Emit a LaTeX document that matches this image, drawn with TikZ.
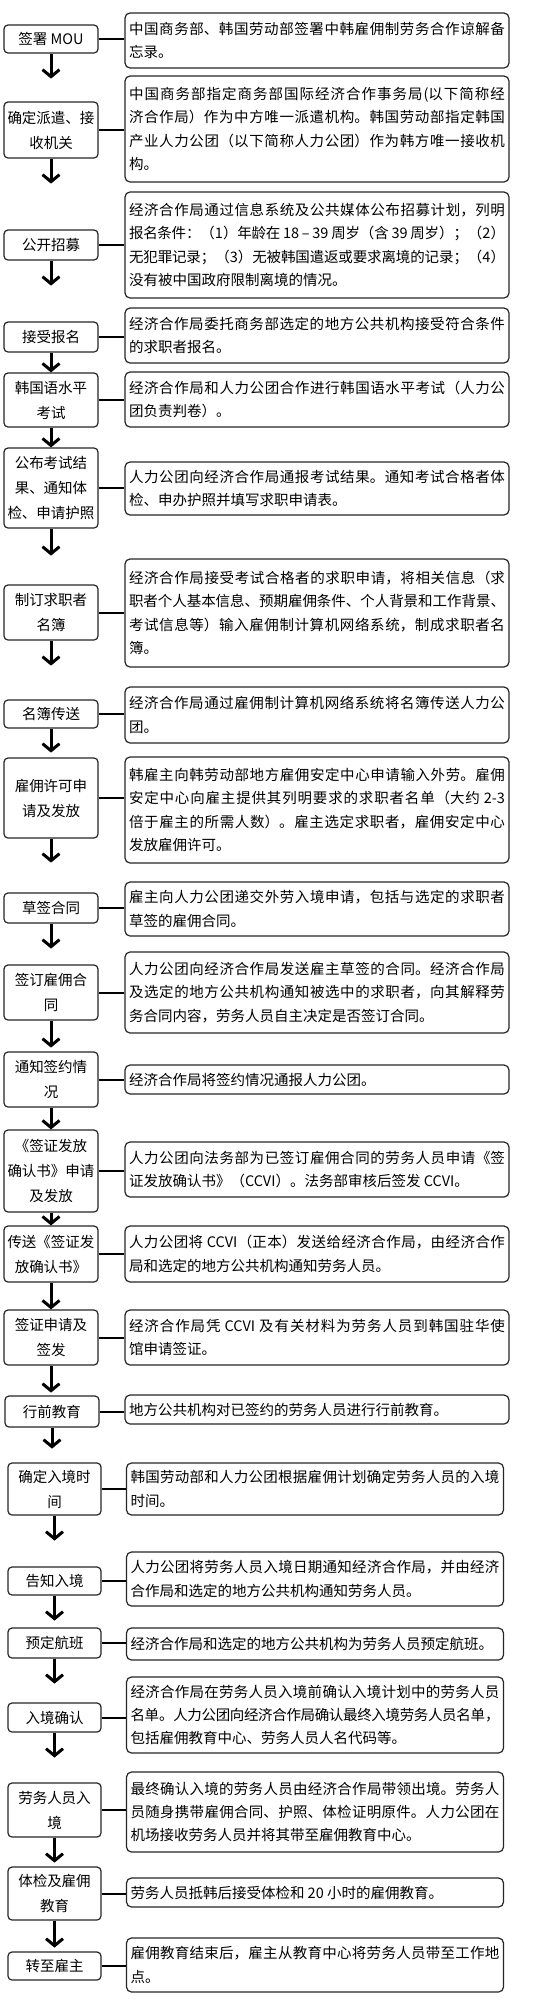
\documentclass[tikz,border=0pt]{standalone}
\usepackage{fontspec}
\setmainfont{Noto Sans CJK SC}
\usetikzlibrary{arrows.meta}
\XeTeXlinebreaklocale "zh"
\XeTeXlinebreakskip=0pt plus 2pt minus 0.6pt
\tolerance=10000
\begin{document}
\begin{tikzpicture}[x=1pt,y=-1pt,
  lbox/.style={draw=black!85, line width=1.2pt, rounded corners=4pt, minimum width=94pt, align=center, inner sep=2pt, font=\fontsize{14.5}{25}\selectfont},
  lboxl/.style={lbox, minimum width=93pt},
  rbox/.style={draw=black!85, line width=1.2pt, rounded corners=5pt, text width=376pt, align=justify, inner xsep=4pt, inner ysep=2pt, font=\fontsize{14.5}{23.3}\selectfont},
  rboxl/.style={rbox, text width=369pt},
  link/.style={line width=2pt},
  arr/.style={line width=3pt, -{Straight Barb[length=7pt,width=17pt]}}]
\fill[white] (0,0) rectangle (544,2003);
\useasboundingbox (0,0) rectangle (544,2003);

% left step boxes
\node[lbox, minimum height=28pt] (l1) at (51,39) {签署 MOU};
\node[lbox, minimum height=56pt] (l2) at (51,130) {确定派遣、接\\收机关};
\node[lbox, minimum height=30pt] (l3) at (51,245) {公开招募};
\node[lbox, minimum height=30pt] (l4) at (51,337) {接受报名};
\node[lbox, minimum height=54pt] (l5) at (51,400) {韩国语水平\\考试};
\node[lbox, minimum height=80pt] (l6) at (51,488) {公布考试结\\果、通知体\\检、申请护照};
\node[lbox, minimum height=55pt] (l7) at (51,612.5) {制订求职者\\名簿};
\node[lbox, minimum height=28pt] (l8) at (51,714) {名簿传送};
\node[lbox, minimum height=80pt] (l9) at (51,798) {雇佣许可申\\请及发放};
\node[lbox, minimum height=30pt] (l10) at (51,908) {草签合同};
\node[lbox, minimum height=55pt] (l11) at (51,992.5) {签订雇佣合\\同};
\node[lbox, minimum height=55pt] (l12) at (51,1079.5) {通知签约情\\况};
\node[lbox, minimum height=82pt] (l13) at (51,1171) {《签证发放\\确认书》申请\\及发放};
\node[lbox, minimum height=56pt] (l14) at (51,1254) {传送《签证发\\放确认书》};
\node[lbox, minimum height=55pt] (l15) at (51,1337.5) {签证申请及\\签发};
\node[lbox, minimum height=31pt] (l16) at (52,1411.5) {行前教育};
\node[lboxl, minimum height=52pt] (l17) at (54.5,1489) {确定入境时\\间};
\node[lboxl, minimum height=28pt] (l18) at (54.5,1581) {告知入境};
\node[lboxl, minimum height=30pt] (l19) at (54.5,1643) {预定航班};
\node[lboxl, minimum height=29pt] (l20) at (54.5,1717.5) {入境确认};
\node[lboxl, minimum height=54pt] (l21) at (54.5,1810) {劳务人员入\\境};
\node[lboxl, minimum height=53pt] (l22) at (54.5,1893.5) {体检及雇佣\\教育};
\node[lboxl, minimum height=28pt] (l23) at (54.5,1966) {转至雇主};

% right description boxes
\node[rbox, minimum height=55pt] (r1) at (317,40.5) {中国商务部、韩国劳动部签署中韩雇佣制劳务合作谅解备\linebreak 忘录。};
\node[rbox, minimum height=106pt] (r2) at (317,129) {中国商务部指定商务部国际经济合作事务局(以下简称经\linebreak 济合作局）作为中方唯一派遣机构。韩国劳动部指定韩国\linebreak 产业人力公团（以下简称人力公团）作为韩方唯一接收机\linebreak 构。};
\node[rbox, minimum height=106pt] (r3) at (317,245) {经济合作局通过信息系统及公共媒体公布招募计划，列明\linebreak 报名条件：（1）年龄在 18 – 39 周岁（含 39 周岁）；（2）\linebreak 无犯罪记录；（3）无被韩国遣返或要求离境的记录；（4）\linebreak 没有被中国政府限制离境的情况。};
\node[rbox, minimum height=55pt] (r4) at (317,335.5) {经济合作局委托商务部选定的地方公共机构接受符合条件\linebreak 的求职者报名。};
\node[rbox, minimum height=55pt] (r5) at (317,399.5) {经济合作局和人力公团合作进行韩国语水平考试（人力公\linebreak 团负责判卷）。};
\node[rbox, minimum height=53pt] (r6) at (317,488.5) {人力公团向经济合作局通报考试结果。通知考试合格者体\linebreak 检、申办护照并填写求职申请表。};
\node[rbox, minimum height=108pt] (r7) at (317,613) {经济合作局接受考试合格者的求职申请，将相关信息（求\linebreak 职者个人基本信息、预期雇佣条件、个人背景和工作背景、\linebreak 考试信息等）输入雇佣制计算机网络系统，制成求职者名\linebreak 簿。};
\node[rbox, minimum height=56pt] (r8) at (317,715) {经济合作局通过雇佣制计算机网络系统将名簿传送人力公\linebreak 团。};
\node[rbox, minimum height=106pt] (r9) at (317,810) {韩雇主向韩劳动部地方雇佣安定中心申请输入外劳。雇佣\linebreak 安定中心向雇主提供其列明要求的求职者名单（大约 2-3\linebreak 倍于雇主的所需人数）。雇主选定求职者，雇佣安定中心\linebreak 发放雇佣许可。};
\node[rbox, minimum height=54pt] (r10) at (317,909) {雇主向人力公团递交外劳入境申请，包括与选定的求职者\linebreak 草签的雇佣合同。};
\node[rbox, minimum height=81pt] (r11) at (317,992.5) {人力公团向经济合作局发送雇主草签的合同。经济合作局\linebreak 及选定的地方公共机构通知被选中的求职者，向其解释劳\linebreak 务合同内容，劳务人员自主决定是否签订合同。};
\node[rbox, minimum height=29pt] (r12) at (317,1079.5) {经济合作局将签约情况通报人力公团。};
\node[rbox, minimum height=55pt] (r13) at (317,1169.5) {人力公团向法务部为已签订雇佣合同的劳务人员申请《签\linebreak 证发放确认书》（CCVI）。法务部审核后签发 CCVI。};
\node[rbox, minimum height=56pt] (r14) at (317,1254) {人力公团将 CCVI（正本）发送给经济合作局，由经济合作\linebreak 局和选定的地方公共机构通知劳务人员。};
\node[rbox, minimum height=55pt] (r15) at (317,1337.5) {经济合作局凭 CCVI 及有关材料为劳务人员到韩国驻华使\linebreak 馆申请签证。};
\node[rbox, minimum height=29pt] (r16) at (317,1409.5) {地方公共机构对已签约的劳务人员进行行前教育。};
\node[rboxl, minimum height=52pt] (r17) at (315,1489) {韩国劳动部和人力公团根据雇佣计划确定劳务人员的入境\linebreak 时间。};
\node[rboxl, minimum height=54pt] (r18) at (315,1579) {人力公团将劳务人员入境日期通知经济合作局，并由经济\linebreak 合作局和选定的地方公共机构通知劳务人员。};
\node[rboxl, minimum height=32pt] (r19) at (315,1644) {经济合作局和选定的地方公共机构为劳务人员预定航班。};
\node[rboxl, minimum height=76pt] (r20) at (315,1715) {经济合作局在劳务人员入境前确认入境计划中的劳务人员\linebreak 名单。人力公团向经济合作局确认最终入境劳务人员名单，\linebreak 包括雇佣教育中心、劳务人员人名代码等。};
\node[rboxl, minimum height=80pt] (r21) at (315,1812) {最终确认入境的劳务人员由经济合作局带领出境。劳务人\linebreak 员随身携带雇佣合同、护照、体检证明原件。人力公团在\linebreak 机场接收劳务人员并将其带至雇佣教育中心。};
\node[rboxl, minimum height=29pt] (r22) at (315,1892.5) {劳务人员抵韩后接受体检和 20 小时的雇佣教育。};
\node[rboxl, minimum height=54pt] (r23) at (315,1965) {雇佣教育结束后，雇主从教育中心将劳务人员带至工作地\linebreak 点。};

% links
\foreach \i in {1,...,23} {
  \draw[link] (l\i.east) -- (l\i.east -| r\i.west);
}

% arrows
\draw[arr] (l1.south) -- ++(0,25);
\draw[arr] (l2.south) -- ++(0,25);
\draw[arr] (l3.south) -- ++(0,25);
\draw[arr] (l4.south) -- (l5.north);
\draw[arr] (l5.south) -- (l6.north);
\draw[arr] (l6.south) -- ++(0,27);
\draw[arr] (l7.south) -- ++(0,25);
\draw[arr] (l8.south) -- ++(0,24);
\draw[arr] (l9.south) -- ++(0,24);
\draw[arr] (l10.south) -- ++(0,25);
\draw[arr] (l11.south) -- ++(0,27);
\draw[arr] (l12.south) -- (l13.north);
\draw[arr] (l13.south) -- (l14.north);
\draw[arr] (l14.south) -- (l15.north);
\draw[arr] (l15.south) -- ++(0,27);
\draw[arr] (l16.south) -- ++(0,21);
\draw[arr] (l17.south) -- ++(0,25);
\draw[arr] (l18.south) -- ++(0,25);
\draw[arr] (l19.south) -- ++(0,25);
\draw[arr] (l20.south) -- ++(0,25);
\draw[arr] (l21.south) -- ++(0,25);
\draw[arr] (l22.south) -- ++(0,27);
\end{tikzpicture}
\end{document}
